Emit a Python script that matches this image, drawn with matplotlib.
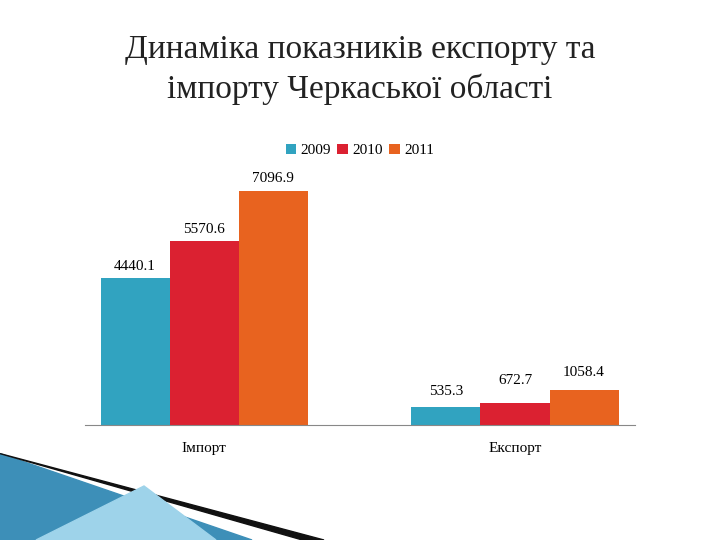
import matplotlib
matplotlib.use("Agg")
import matplotlib.pyplot as plt
from matplotlib.patches import Polygon

categories = ["Імпорт", "Експорт"]
years = ["2009", "2010", "2011"]
v2009 = [4440.1, 535.3]
v2010 = [5570.6, 672.7]
v2011 = [7096.9, 1058.4]
colors = ["#31A3C0", "#DB2131", "#E8631F"]

plt.rcParams['font.family'] = ['Liberation Serif', 'DejaVu Serif']
fig = plt.figure(figsize=(7.2, 5.4), dpi=100)
fig.text(0.5, 0.870, "Динаміка показників експорту та\nімпорту Черкаської області",
         ha='center', va='center', fontsize=24, color='#222222', linespacing=1.35)
ax = fig.add_axes([0.118, 0.213, 0.764, 0.489])
w = 0.222
x = [0, 1]
exp_off = [7, 11, 8]
for i, (vals, yr) in enumerate(zip([v2009, v2010, v2011], years)):
    xs = [xi + (i - 1) * w for xi in x]
    bars = ax.bar(xs, vals, w, color=colors[i], label=yr)
    for j, (b, v) in enumerate(zip(bars, vals)):
        dy = 4 if j == 0 else exp_off[i]
        ax.annotate(f"{v:.1f}", (b.get_x() + b.get_width() / 2, v), xytext=(0, dy),
                    textcoords='offset points', ha='center', va='bottom', fontsize=11)
ax.set_xlim(-0.383, 1.386)
ax.set_ylim(0, 8000)
ax.set_yticks([])
ax.set_xticks(x)
ax.set_xticklabels(categories, fontsize=11)
ax.tick_params(axis='x', length=0, pad=12)
for s in ['top', 'right', 'left']:
    ax.spines[s].set_visible(False)
ax.spines['bottom'].set_color('#888888')
ax.legend(loc='center', bbox_to_anchor=(0.5, 1.0 + 0.04), ncol=3, frameon=False,
          fontsize=11, handlelength=0.7, handleheight=0.7, columnspacing=0.4, handletextpad=0.3)

# decorative swoosh bottom-left
fig.patches.append(Polygon([[0, 0], [0, 0.16], [0.35, 0]], closed=True,
                           transform=fig.transFigure, color='#3D8FB8', zorder=-1))
fig.patches.append(Polygon([[0, 0.16], [0.45, 0.0], [0.42, 0.0]], closed=True,
                           transform=fig.transFigure, color='#111111', zorder=-1))
fig.patches.append(Polygon([[0.05, 0.0], [0.2, 0.1], [0.3, 0.0]], closed=True,
                           transform=fig.transFigure, color='#9ED3EA', zorder=-1))
fig.savefig("out.png", dpi=100)
